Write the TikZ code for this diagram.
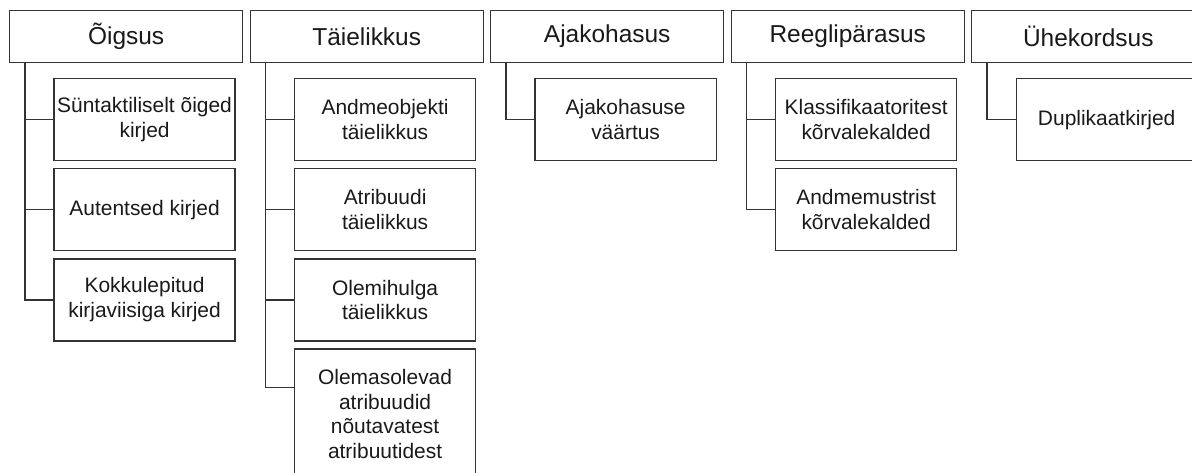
\documentclass[tikz,border=0pt]{standalone}
\usepackage{fontspec}
\setmainfont{Liberation Sans}
\usetikzlibrary{positioning}

\begin{document}
\begin{tikzpicture}[
    x=0.025cm, y=-0.025cm,
    head/.style={draw=black!80, line width=0.9pt, minimum width=5.825cm, minimum height=1.3cm, inner sep=1pt, text=black!90, font=\fontsize{17.4}{20}\selectfont},
    sub/.style={draw=black!80, line width=0.9pt, minimum width=4.525cm, minimum height=2.05cm, inner sep=1pt, align=center, text=black!90, font=\fontsize{14.9}{17.6}\selectfont},
    link/.style={draw=black!80, line width=0.9pt},
    node distance=0.17cm
  ]
  \useasboundingbox (0,0) rectangle (1192,473);
  \clip (0,0) rectangle (1192,473);

  % Dimensioonid (ülemine rida)
  \node[head, anchor=north west] (d1) at (9,10) {Õigsus};
  \node[head] (d2) [right=0.155cm of d1] {Täielikkus};
  \node[head] (d3) [right=0.155cm of d2] {Ajakohasus};
  \node[head] (d4) [right=0.155cm of d3] {Reeglipärasus};
  \node[head] (d5) [right=0.155cm of d4] {Ühekordsus};

  % Tüvejooned
  \foreach \i in {1,...,5} {
      \coordinate (t\i) at ([xshift=0.4cm]d\i.south west);
    }

  % Õigsus
  \node[sub] (d1a) [below right=0.37cm and 1.11cm of d1.south west] {Süntaktiliselt õiged\\kirjed};
  \node[sub] (d1b) [below=of d1a] {Autentsed kirjed};
  \node[sub] (d1c) [below=of d1b] {Kokkulepitud\\kirjaviisiga kirjed};
  \draw[link] (t1) |- (d1c.west);
  \foreach \c in {a,b} \draw[link] (t1 |- d1\c.west) -- (d1\c.west);

  % Täielikkus
  \node[sub] (d2a) [below right=0.37cm and 1.11cm of d2.south west] {Andmeobjekti\\täielikkus};
  \node[sub] (d2b) [below=of d2a] {Atribuudi\\täielikkus};
  \node[sub] (d2c) [below=of d2b] {Olemihulga\\täielikkus};
  \node[sub, minimum height=3.25cm] (d2d) [below=of d2c] {Olemasolevad\\atribuudid\\nõutavatest\\atribuutidest};
  \coordinate (d2dw) at ([yshift=-0.975cm]d2d.north west);
  \draw[link] (t2) |- (d2dw);
  \foreach \c in {a,b,c} \draw[link] (t2 |- d2\c.west) -- (d2\c.west);

  % Ajakohasus
  \node[sub] (d3a) [below right=0.37cm and 1.11cm of d3.south west] {Ajakohasuse\\väärtus};
  \draw[link] (t3) |- (d3a.west);

  % Reeglipärasus
  \node[sub] (d4a) [below right=0.37cm and 1.11cm of d4.south west] {Klassifikaatoritest\\kõrvalekalded};
  \node[sub] (d4b) [below=of d4a] {Andmemustrist\\kõrvalekalded};
  \draw[link] (t4) |- (d4b.west);
  \draw[link] (t4 |- d4a.west) -- (d4a.west);

  % Ühekordsus
  \node[sub] (d5a) [below right=0.37cm and 1.11cm of d5.south west] {Duplikaatkirjed};
  \draw[link] (t5) |- (d5a.west);

\end{tikzpicture}
\end{document}
